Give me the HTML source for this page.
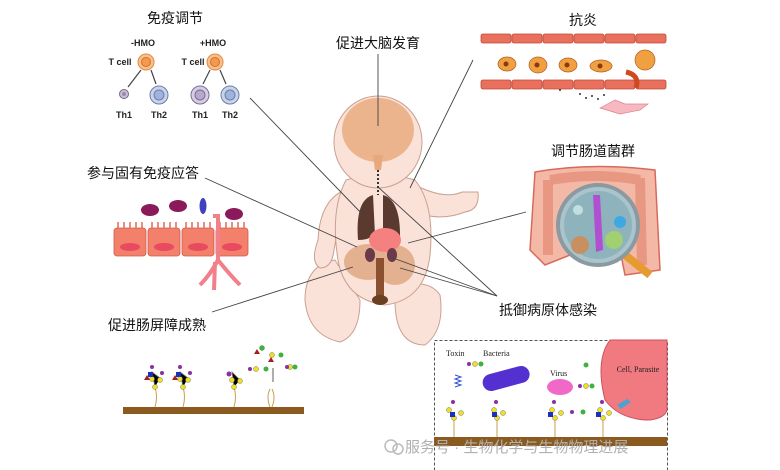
<!DOCTYPE html>
<html><head><meta charset="utf-8"><style>
html,body{margin:0;padding:0;background:#fff;}
svg{display:block;font-family:"Liberation Sans","Noto Sans CJK SC",sans-serif;}
.cn{font-family:"Liberation Sans","Noto Sans CJK SC",sans-serif;font-size:14px;fill:#111;}
.sm{font-size:9px;font-weight:bold;fill:#222;}
.ser{font-family:"Liberation Serif",serif;font-size:8px;fill:#222;}
</style></head><body>
<svg width="780" height="470" viewBox="0 0 780 470">
<text x="175" y="23" class="cn" text-anchor="middle">免疫调节</text>
<text x="143" y="46" class="sm" text-anchor="middle">-HMO</text>
<text x="213" y="46" class="sm" text-anchor="middle">+HMO</text>
<text x="120" y="65" class="sm" text-anchor="middle">T cell</text>
<text x="193" y="65" class="sm" text-anchor="middle">T cell</text>
<circle cx="146" cy="62" r="8" fill="#f9c08a" stroke="#e08a40"/><circle cx="146" cy="62" r="4.5" fill="#f49a50" stroke="#d07030"/>
<circle cx="215" cy="62" r="8" fill="#f9c08a" stroke="#e08a40"/><circle cx="215" cy="62" r="4.5" fill="#f49a50" stroke="#d07030"/>
<g stroke="#444" stroke-width="1.2">
<line x1="141" y1="70" x2="128" y2="87"/><line x1="151" y1="70" x2="156" y2="84"/>
<line x1="210" y1="70" x2="203" y2="84"/><line x1="220" y1="70" x2="226" y2="84"/></g>
<circle cx="124" cy="94" r="4.5" fill="#cbbfd8" stroke="#776688"/><circle cx="124" cy="94" r="2" fill="#9988aa"/>
<circle cx="159" cy="95" r="9" fill="#c8d4ec" stroke="#6d7fa8"/><circle cx="159" cy="95" r="5" fill="#9fb3dd" stroke="#6d7fa8"/>
<circle cx="200" cy="95" r="9" fill="#d6cde4" stroke="#7a6d94"/><circle cx="200" cy="95" r="5" fill="#b8a9cc" stroke="#7a6d94"/>
<circle cx="230" cy="95" r="9" fill="#c8d4ec" stroke="#6d7fa8"/><circle cx="230" cy="95" r="5" fill="#9fb3dd" stroke="#6d7fa8"/>
<text x="124" y="118" class="sm" text-anchor="middle">Th1</text><text x="159" y="118" class="sm" text-anchor="middle">Th2</text>
<text x="200" y="118" class="sm" text-anchor="middle">Th1</text><text x="230" y="118" class="sm" text-anchor="middle">Th2</text>

<text x="378" y="48" class="cn" text-anchor="middle">促进大脑发育</text>
<text x="583" y="25" class="cn" text-anchor="middle">抗炎</text>
<text x="593" y="156" class="cn" text-anchor="middle">调节肠道菌群</text>
<text x="87" y="178" class="cn">参与固有免疫应答</text>
<text x="108" y="330" class="cn">促进肠屏障成熟</text>
<text x="548" y="315" class="cn" text-anchor="middle">抵御病原体感染</text>

<g fill="#e8705c" stroke="#c04a3a" stroke-width="0.8">
<rect x="481" y="34" width="30" height="9" rx="2"/><rect x="512" y="34" width="30" height="9" rx="2"/><rect x="543" y="34" width="30" height="9" rx="2"/><rect x="574" y="34" width="30" height="9" rx="2"/><rect x="605" y="34" width="30" height="9" rx="2"/><rect x="636" y="34" width="30" height="9" rx="2"/>
<rect x="481" y="80" width="30" height="9" rx="2"/><rect x="512" y="80" width="30" height="9" rx="2"/><rect x="543" y="80" width="30" height="9" rx="2"/><rect x="574" y="80" width="30" height="9" rx="2"/><rect x="605" y="80" width="30" height="9" rx="2"/><rect x="636" y="80" width="30" height="9" rx="2"/></g>
<g fill="#f0a040" stroke="#b06020" stroke-width="0.7">
<ellipse cx="507" cy="64" rx="9" ry="7"/><ellipse cx="538" cy="65" rx="9" ry="8"/><ellipse cx="568" cy="65" rx="9" ry="7"/><ellipse cx="601" cy="66" rx="11" ry="6"/><circle cx="645" cy="60" r="10"/></g>
<g fill="#8a3a10"><circle cx="506" cy="64" r="2.5"/><circle cx="537" cy="65" r="2.5"/><circle cx="567" cy="65" r="2.5"/><circle cx="600" cy="66" r="2.5"/></g>
<path d="M626 72 Q640 75 636 88" stroke="#d04a20" stroke-width="5" fill="none"/>
<path d="M600 108 L615 100 L625 104 L648 104 L640 110 L620 114 Z" fill="#f8b8c0" stroke="#e08090" stroke-width="0.7"/>
<g fill="#333"><circle cx="580" cy="94" r="1"/><circle cx="586" cy="98" r="1"/><circle cx="592" cy="96" r="1"/><circle cx="598" cy="99" r="1"/><circle cx="604" cy="95" r="1"/><circle cx="560" cy="90" r="1"/></g>

<path d="M535 172 Q590 162 655 170 L660 270 L625 275 L620 250 L570 255 L545 265 L530 250 Z" fill="#f3b9a6" stroke="#d76a5a" stroke-width="1.5"/>
<path d="M548 180 L548 255 M640 178 L642 265 M550 180 Q595 172 640 180" stroke="#e0806a" stroke-width="10" fill="none" opacity="0.6"/>
<line x1="625" y1="255" x2="650" y2="275" stroke="#e69a30" stroke-width="8"/>
<circle cx="598" cy="225" r="40" fill="#a9c4cc" stroke="#8a9aa0" stroke-width="4"/>
<circle cx="598" cy="225" r="34" fill="#8fb3bd"/>
<path d="M593 195 L600 195 L603 250 L596 252 Z" fill="#b050d0"/>
<circle cx="580" cy="245" r="9" fill="#c89060"/><circle cx="614" cy="240" r="9" fill="#a0d070"/><circle cx="620" cy="222" r="6" fill="#40a8e0"/><circle cx="578" cy="210" r="5" fill="#c0e0e0"/>

<g fill="#f2806a" stroke="#d35a48" stroke-width="0.8">
<rect x="114" y="228" width="32" height="28" rx="3"/><rect x="148" y="228" width="32" height="28" rx="3"/><rect x="182" y="228" width="32" height="28" rx="3"/><rect x="216" y="228" width="32" height="28" rx="3"/></g>
<g stroke="#e06a58" stroke-width="1.5">
<path d="M118 228v-6M124 228v-6M130 228v-6M136 228v-6M142 228v-6M152 228v-6M158 228v-6M164 228v-6M170 228v-6M176 228v-6M186 228v-6M192 228v-6M198 228v-6M204 228v-6M210 228v-6M220 228v-6M226 228v-6M232 228v-6M238 228v-6M244 228v-6"/></g>
<g fill="#e84a60"><ellipse cx="130" cy="247" rx="10" ry="4"/><ellipse cx="164" cy="247" rx="10" ry="4"/><ellipse cx="198" cy="247" rx="10" ry="4"/><ellipse cx="232" cy="247" rx="10" ry="4"/></g>
<path d="M213 216 L218 216 L218 260 Q230 275 240 285 M218 260 Q210 275 200 285 M215 262 L214 290" stroke="#f2808a" stroke-width="4" fill="none"/>
<g fill="#8a1a5a"><ellipse cx="150" cy="210" rx="9" ry="6"/><ellipse cx="178" cy="206" rx="9" ry="6"/><ellipse cx="234" cy="214" rx="9" ry="6"/></g>
<ellipse cx="203" cy="206" rx="3.5" ry="8" fill="#4040c0"/>

<g fill="#fbe2d8" stroke="#c9a092" stroke-width="1">
<path d="M335 260 Q305 265 305 300 Q308 335 340 342 Q360 335 360 300 Z"/>
<path d="M395 300 Q395 345 425 345 Q445 330 440 295 Q430 280 405 285 Z"/>
<path d="M345 190 Q320 200 318 240 Q310 262 320 268 Q332 268 334 250 Z"/>
<path d="M415 185 Q445 200 462 192 L478 192 Q480 210 465 212 Q445 220 425 215 Z"/>
<path d="M346 180 Q330 210 338 260 Q345 300 385 305 Q425 300 430 255 Q435 205 415 180 Q380 170 346 180 Z"/>
<ellipse cx="378" cy="142" rx="44" ry="46"/></g>
<ellipse cx="378" cy="130" rx="36" ry="32" fill="#ecb48c"/>
<path d="M373 155 L383 155 L381 170 L375 170 Z" fill="#e8a87c"/>
<line x1="378" y1="170" x2="378" y2="195" stroke="#333" stroke-width="2" stroke-dasharray="2 2"/>
<path d="M373 195 Q355 200 358 240 Q368 240 375 235 Z M383 195 Q401 200 400 240 Q390 240 383 235 Z" fill="#5a3a2e"/>
<ellipse cx="368" cy="262" rx="24" ry="18" fill="#e3b090"/><ellipse cx="395" cy="265" rx="20" ry="20" fill="#e3b090"/>
<ellipse cx="385" cy="240" rx="16" ry="12" fill="#f48080"/>
<ellipse cx="370" cy="255" rx="5" ry="7" fill="#6a3a4a"/><ellipse cx="392" cy="255" rx="5" ry="7" fill="#6a3a4a"/>
<rect x="376" y="258" width="8" height="40" fill="#8a5030"/><ellipse cx="380" cy="300" rx="8" ry="5" fill="#6a4020"/>

<g stroke="#444" stroke-width="0.9" fill="none">
<line x1="250" y1="98" x2="365" y2="217"/>
<line x1="378" y1="54" x2="378" y2="126"/>
<line x1="473" y1="60" x2="410" y2="188"/>
<line x1="205" y1="178" x2="357" y2="247"/>
<line x1="212" y1="312" x2="353" y2="267"/>
<line x1="526" y1="212" x2="408" y2="243"/>
<line x1="497" y1="296" x2="378" y2="187"/>
<line x1="497" y1="296" x2="393" y2="258"/>
<line x1="497" y1="296" x2="400" y2="268"/>
</g>

<rect x="123" y="407" width="181" height="7" fill="#8b5a1e"/>
<g stroke="#c9a050" fill="none"><path d="M155 407 q3 -10 0 -20M183 407 q3 -10 0 -20M234 407 q3 -10 0 -20M270 407 q-4 -10 0 -18M272 407 q4 -10 0 -18"/></g>
<g stroke="#777" stroke-width="0.8"><path d="M155 387 L152 372 L160 378 M183 387 L180 372 L188 378 M234 387 L232 372 L240 380"/></g>
<g fill="#f0e020" stroke="#776" stroke-width="0.5"><circle cx="155" cy="387" r="2.5"/><circle cx="152" cy="379" r="2.5"/><circle cx="160" cy="380" r="2.5"/><circle cx="183" cy="387" r="2.5"/><circle cx="180" cy="379" r="2.5"/><circle cx="188" cy="380" r="2.5"/><circle cx="234" cy="387" r="2.5"/><circle cx="232" cy="380" r="2.5"/><circle cx="240" cy="381" r="2.5"/><circle cx="262" cy="348" r="2.5"/><circle cx="272" cy="355" r="2.5"/><circle cx="256" cy="369" r="2.5"/><circle cx="290" cy="367" r="2.5"/></g>
<g fill="#1a30c0"><rect x="148" y="372" width="5" height="5"/><rect x="176" y="372" width="5" height="5"/></g>
<g fill="#8a30a0"><circle cx="152" cy="367" r="2"/><circle cx="162" cy="373" r="2"/><circle cx="180" cy="367" r="2"/><circle cx="190" cy="373" r="2"/><circle cx="229" cy="374" r="2.5"/><circle cx="250" cy="369" r="2"/><circle cx="287" cy="367" r="2"/></g>
<g fill="#40b040"><circle cx="262" cy="348" r="2.5"/><circle cx="281" cy="355" r="2.5"/><circle cx="266" cy="369" r="2.5"/><circle cx="295" cy="367" r="2.5"/></g>
<g fill="#a02020"><path d="M254 354 l3 -5 l3 5z M268 362 l3 -5 l3 5z M144 380 l3 -5 l3 5z M172 380 l3 -5 l3 5z"/></g>
<line x1="273" y1="368" x2="273" y2="382" stroke="#333" stroke-width="0.8"/>

<rect x="434.5" y="340.5" width="233" height="132" fill="none" stroke="#555" stroke-dasharray="3 2"/>
<path d="M610 340 Q595 360 605 400 Q620 420 650 420 Q665 418 667 410 L667 340 Z" fill="#f07a80" stroke="#d05060"/>
<text x="638" y="372" class="ser" text-anchor="middle">Cell, Parasite</text>
<text x="446" y="356" class="ser">Toxin</text><text x="483" y="356" class="ser">Bacteria</text><text x="550" y="376" class="ser">Virus</text>
<rect x="482" y="370" width="48" height="17" rx="8.5" fill="#5530d0" transform="rotate(-15 506 378)"/>
<ellipse cx="560" cy="387" rx="13" ry="8" fill="#f068c8"/>
<path d="M455 375 l6 2 l-6 2 l6 2 l-6 2 l6 2 l-6 2" stroke="#3050d0" fill="none"/>
<rect x="434" y="437" width="233" height="9" fill="#8b5a1e"/>
<path d="M617 405 l10 -6 l4 3 l-10 7z" fill="#50a0d0"/>
<g fill="#f0e020" stroke="#776" stroke-width="0.5"><circle cx="454" cy="418" r="2.5"/><circle cx="449" cy="410" r="2.5"/><circle cx="461" cy="413" r="2.5"/><circle cx="497" cy="418" r="2.5"/><circle cx="494" cy="410" r="2.5"/><circle cx="503" cy="413" r="2.5"/><circle cx="555" cy="418" r="2.5"/><circle cx="552" cy="410" r="2.5"/><circle cx="561" cy="413" r="2.5"/><circle cx="603" cy="418" r="2.5"/><circle cx="600" cy="410" r="2.5"/><circle cx="609" cy="413" r="2.5"/><circle cx="475" cy="364" r="2.5"/><circle cx="586" cy="386" r="2.5"/></g>
<g fill="#1a30c0"><rect x="450" y="412" width="5" height="5"/><rect x="492" y="412" width="5" height="5"/><rect x="548" y="412" width="5" height="5"/><rect x="596" y="412" width="5" height="5"/></g>
<g fill="#40b040"><circle cx="481" cy="364" r="2.5"/><circle cx="592" cy="386" r="2.5"/><circle cx="586" cy="365" r="2.5"/><circle cx="583" cy="412" r="2.5"/></g>
<g fill="#8a30a0"><circle cx="469" cy="364" r="2"/><circle cx="580" cy="386" r="2"/><circle cx="572" cy="412" r="2"/><circle cx="453" cy="402" r="2"/><circle cx="496" cy="402" r="2"/><circle cx="554" cy="402" r="2"/><circle cx="602" cy="402" r="2"/></g>
<g stroke="#c9a050" fill="none"><path d="M454 420 v17M497 420 v17M555 420 v17M603 420 v17"/></g>
<circle cx="391" cy="446" r="6" fill="none" stroke="#bbb" stroke-width="1.5"/><circle cx="398" cy="449" r="5" fill="none" stroke="#bbb" stroke-width="1.5"/>
<text x="405" y="452" font-size="15" fill="#b0b0b0" font-family="Liberation Sans,Noto Sans CJK SC,sans-serif">服务号 · 生物化学与生物物理进展</text>
</svg>
</body></html>
